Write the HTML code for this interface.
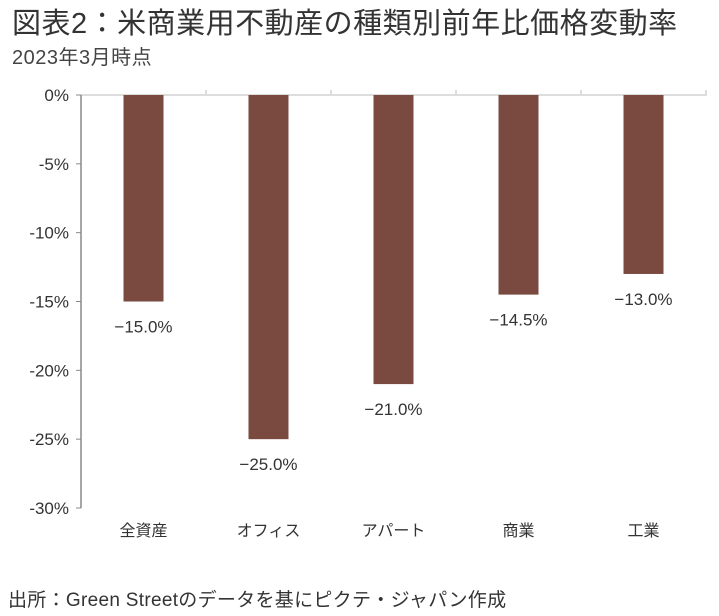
<!DOCTYPE html>
<html><head><meta charset="utf-8"><style>
body{margin:0;background:#fff;width:719px;height:616px;overflow:hidden;font-family:"Liberation Sans","Noto Sans CJK JP",sans-serif;color:#333}
#title{position:absolute;left:12px;top:0px;font-size:29px;letter-spacing:0.5px;white-space:nowrap}
#sub{position:absolute;left:12px;top:41px;font-size:20px;letter-spacing:0.5px;color:#444}
#src{position:absolute;left:8px;top:585px;font-size:19px;letter-spacing:0.3px;color:#333;white-space:nowrap}
svg{position:absolute;left:0;top:0}
</style></head><body>
<div id="title">図表2：米商業用不動産の種類別前年比価格変動率</div>
<div id="sub">2023年3月時点</div>
<svg id="c" width="719" height="616"></svg>
<div id="src">出所：Green Streetのデータを基にピクテ・ジャパン作成</div>
<script>
const categories=["全資産","オフィス","アパート","商業","工業"];
const values=[-15.0,-25.0,-21.0,-14.5,-13.0];
const yTicks=[0,-5,-10,-15,-20,-25,-30];
const NS="http://www.w3.org/2000/svg";
const svg=document.getElementById('c');
const x0=81,x1=706,yTop=95,yBot=508;
const y=v=>yTop+(-v/30)*(yBot-yTop);
const band=(x1-x0)/categories.length;
const xc=i=>x0+band*(i+0.5);
function mk(t,a,txt){const e=document.createElementNS(NS,t);for(const k in a)e.setAttribute(k,a[k]);if(txt!==undefined)e.textContent=txt;svg.appendChild(e);return e;}
yTicks.forEach(t=>{
const l=mk('line',{x1:x0-5,x2:x0,y1:y(t),y2:y(t),stroke:'#888'});


const tx=mk('text',{x:x0-12,y:y(t)+6,'text-anchor':'end','font-size':17,fill:'#333'},t+'%');


});
const zl=mk('line',{x1:x0,x2:x1,y1:y(0),y2:y(0),stroke:'#ddd','stroke-width':2});


for(let i=1;i<=categories.length;i++){const t=mk('line',{x1:x0+band*i,x2:x0+band*i,y1:y(0)-5,y2:y(0)+1,stroke:'#ddd','stroke-width':2});

}
const ax=mk('line',{x1:x0,x2:x0,y1:yTop,y2:yBot,stroke:'#888','stroke-width':1.5});


categories.forEach((c,i)=>{
const w=40;
const b=mk('rect',{x:xc(i)-w/2,y:y(0),width:w,height:y(values[i])-y(0),fill:'#7A4A40'});


const v=mk('text',{x:xc(i),y:y(values[i])+31,'text-anchor':'middle','font-size':17,fill:'#333'},values[i].toFixed(1).replace('-','−')+'%');


const cl=mk('text',{x:xc(i),y:536,'text-anchor':'middle','font-size':16,fill:'#333'},c);


});
</script>
</body></html>
